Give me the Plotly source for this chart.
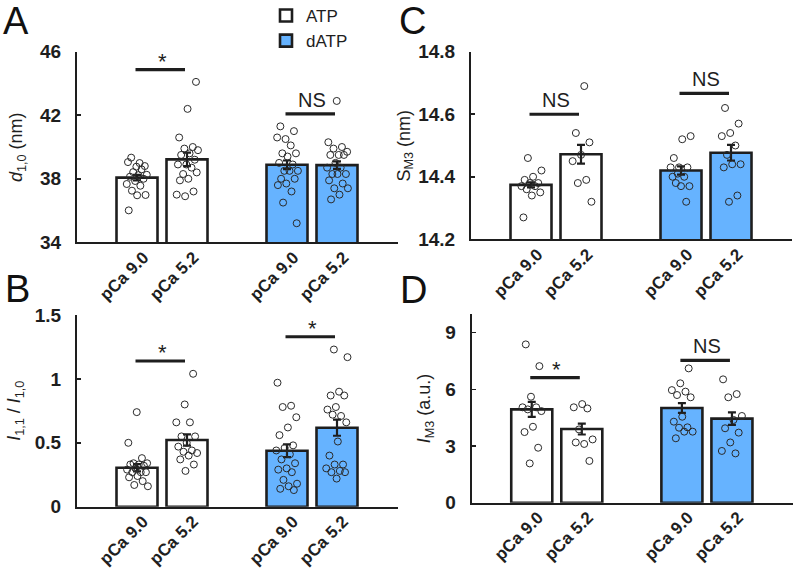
import plotly.graph_objects as go

# ---------------- data ----------------
positions = [1, 2, 4, 5]
tick_labels = ["pCa 9.0", "pCa 5.2", "pCa 9.0", "pCa 5.2"]
conditions = ["ATP", "dATP"]

# Panel A: d1,0 (nm)
d10_means = [38.07, 39.22, 38.88, 38.86]
d10_sem = [0.17, 0.42, 0.27, 0.24]
d10_atp_pca9 = [38.99, 39.33, 38.80, 38.76, 39.05, 38.59, 38.42, 38.25, 38.23, 38.13,
                38.00, 37.86, 37.67, 37.56, 37.25, 36.98, 36.96, 36.01]
d10_atp_pca52 = [44.1, 42.4, 40.6, 40.0, 39.9, 39.8, 39.6, 39.5, 39.2, 38.9,
                 38.9, 38.7, 38.3, 38.4, 38.0, 37.9, 37.2, 36.9, 37.0]
d10_datp_pca9 = [41.3, 41.0, 40.5, 40.6, 40.1, 39.6, 39.6, 39.4, 39.0, 38.9,
                 38.5, 38.5, 38.5, 38.0, 38.0, 37.7, 37.6, 37.2, 36.5, 35.2]
d10_datp_pca52 = [42.9, 40.3, 40.0, 39.9, 39.7, 39.5, 39.5, 39.5, 39.0, 38.7,
                  38.7, 38.3, 38.3, 38.3, 37.9, 37.7, 37.4, 37.4, 37.0, 36.7]
d10_sig_y = [44.87, 42.08]
d10_sig_text = ["*", "NS"]

# Panel B: I1,1 / I1,0
ratio_means = [0.305, 0.522, 0.438, 0.618]
ratio_sem = [0.028, 0.044, 0.05, 0.063]
ratio_atp_pca9 = [0.74, 0.50, 0.38, 0.34, 0.34, 0.33, 0.33, 0.32, 0.30, 0.29,
                  0.27, 0.27, 0.27, 0.24, 0.23, 0.20, 0.17, 0.16]
ratio_atp_pca52 = [1.04, 0.80, 0.66, 0.66, 0.55, 0.55, 0.50, 0.47, 0.44, 0.43,
                   0.42, 0.40, 0.37, 0.33, 0.28]
ratio_datp_pca9 = [0.97, 0.79, 0.78, 0.70, 0.62, 0.56, 0.48, 0.46, 0.44, 0.41,
                   0.37, 0.34, 0.30, 0.29, 0.27, 0.21, 0.18, 0.16, 0.14, 0.13]
ratio_datp_pca52 = [1.23, 1.17, 0.90, 0.87, 0.87, 0.78, 0.76, 0.71, 0.72, 0.66,
                    0.51, 0.40, 0.33, 0.33, 0.30, 0.28, 0.27, 0.27, 0.22]
ratio_sig_y = [1.14, 1.33]
ratio_sig_text = ["*", "*"]

# Panel C: S_M3 (nm)
sm3_means = [14.374, 14.472, 14.420, 14.477]
sm3_sem = [0.008, 0.03, 0.013, 0.025]
sm3_atp_pca9 = [14.46, 14.42, 14.40, 14.39, 14.38, 14.38, 14.37, 14.37, 14.36, 14.35, 14.34, 14.27]
sm3_atp_pca52 = [14.69, 14.54, 14.51, 14.47, 14.45, 14.39, 14.38, 14.32]
sm3_datp_pca9 = [14.53, 14.52, 14.46, 14.43, 14.43, 14.43, 14.40, 14.38, 14.37, 14.37,
                 14.40, 14.32, 14.41]
sm3_datp_pca52 = [14.62, 14.57, 14.54, 14.53, 14.50, 14.47, 14.44, 14.44, 14.43, 14.34, 14.32]
sm3_sig_y = [14.60, 14.667]
sm3_sig_text = ["NS", "NS"]

# Panel D: I_M3 (a.u.)
im3_means = [4.94, 3.90, 5.01, 4.45]
im3_sem = [0.40, 0.29, 0.26, 0.33]
im3_atp_pca9 = [8.38, 7.23, 5.61, 5.05, 5.05, 4.94, 4.85, 4.02, 3.74, 2.91, 2.08]
im3_atp_pca52 = [5.22, 5.05, 4.99, 3.88, 3.35, 3.11, 3.19, 2.21]
im3_datp_pca9 = [7.11, 6.32, 5.96, 5.88, 5.70, 5.58, 4.55, 4.29, 3.99, 3.97, 3.76, 3.76, 3.41]
im3_datp_pca52 = [6.53, 5.75, 5.58, 4.59, 4.38, 3.94, 3.71, 3.19, 2.74, 2.61]
im3_sig_y = [6.62, 7.53]
im3_sig_text = ["*", "NS"]

# ---------------- style ----------------
W, H = 793, 569
FONT = "Liberation Sans, Arial, Helvetica, sans-serif"
INK = "#1e1e1e"
BLUE = "#66b3ff"
fill_colors = ["white", BLUE]


def px_dom_x(a, b):
    return [a / W, b / W]


def px_dom_y(top, bottom):
    return [1 - bottom / H, 1 - top / H]


panels = [
    dict(name="A", means=d10_means, sem=d10_sem,
         pts=[d10_atp_pca9, d10_atp_pca52, d10_datp_pca9, d10_datp_pca52],
         sig_y=d10_sig_y, sig_text=d10_sig_text,
         yrange=[34, 46], tickvals=[34, 38, 42, 46], ticktext=["34", "38", "42", "46"],
         xdom=px_dom_x(77, 398), ydom=px_dom_y(51.7, 242.3),
         ytitle="<i>d</i><sub>1,0</sub> (nm)", ytitle_x=17, letter_xy=(1, -2)),
    dict(name="B", means=ratio_means, sem=ratio_sem,
         pts=[ratio_atp_pca9, ratio_atp_pca52, ratio_datp_pca9, ratio_datp_pca52],
         sig_y=ratio_sig_y, sig_text=ratio_sig_text,
         yrange=[0, 1.5], tickvals=[0, 0.5, 1, 1.5], ticktext=["0", "0.5", "1", "1.5"],
         xdom=px_dom_x(77, 398), ydom=px_dom_y(315, 506.7),
         ytitle="<i>I</i><sub>1,1</sub> / <i>I</i><sub>1,0</sub>", ytitle_x=16, letter_xy=(3, 266)),
    dict(name="C", means=sm3_means, sem=sm3_sem,
         pts=[sm3_atp_pca9, sm3_atp_pca52, sm3_datp_pca9, sm3_datp_pca52],
         sig_y=sm3_sig_y, sig_text=sm3_sig_text,
         yrange=[14.2, 14.8], tickvals=[14.2, 14.4, 14.6, 14.8],
         ticktext=["14.2", "14.4", "14.6", "14.8"],
         xdom=px_dom_x(471, 792), ydom=px_dom_y(51.7, 239.3),
         ytitle="S<sub>M3</sub> (nm)", ytitle_x=405, letter_xy=(397, -2)),
    dict(name="D", means=im3_means, sem=im3_sem,
         pts=[im3_atp_pca9, im3_atp_pca52, im3_datp_pca9, im3_datp_pca52],
         sig_y=im3_sig_y, sig_text=im3_sig_text,
         yrange=[0, 10], tickvals=[0, 3, 6, 9], ticktext=["0", "3", "6", "9"],
         xdom=px_dom_x(471.7, 793), ydom=px_dom_y(313.8, 502.7),
         ytitle="<i>I</i><sub>M3</sub> (a.u.)", ytitle_x=425, letter_xy=(398, 267)),
]

XRANGE = [-0.2, 6.22]
BAR_W = 0.82
JIT = 0.44


def jitter(n, seed):
    # deterministic low-discrepancy spread of horizontal offsets (layout only)
    g = 0.6180339887
    return [(((i + 1) * g + seed * 0.29) % 1.0 - 0.5) * JIT for i in range(n)]


fig = go.Figure()
annotations = []
layout_axes = {}

for k, p in enumerate(panels):
    idx = "" if k == 0 else str(k + 1)
    xa, ya = "x" + idx, "y" + idx
    # bars: ATP (first two) and dATP (last two)
    for g in range(2):
        sl = slice(2 * g, 2 * g + 2)
        fig.add_trace(go.Bar(
            x=positions[sl], y=p["means"][sl], width=BAR_W,
            marker=dict(color=fill_colors[g], line=dict(color=INK, width=2.6)),
            error_y=dict(type="data", array=p["sem"][sl], color=INK, thickness=2.2, width=4),
            name=conditions[g], showlegend=(k == 0), xaxis=xa, yaxis=ya,
        ))
    # individual measurements
    for j, vals in enumerate(p["pts"]):
        offs = jitter(len(vals), j + 3 * k)
        fig.add_trace(go.Scatter(
            x=[positions[j] + o for o in offs], y=vals, mode="markers",
            marker=dict(symbol="circle-open", size=7, color="#2a2a2a", line=dict(width=1)),
            showlegend=False, xaxis=xa, yaxis=ya, hoverinfo="skip",
        ))
    # significance bars and labels
    for s in range(2):
        p1, p2 = positions[2 * s], positions[2 * s + 1]
        fig.add_trace(go.Scatter(
            x=[p1 - 0.03, p2 - 0.04], y=[p["sig_y"][s]] * 2, mode="lines",
            line=dict(color=INK, width=3.2), showlegend=False, xaxis=xa, yaxis=ya,
            hoverinfo="skip",
        ))
        txt = p["sig_text"][s]
        is_star = txt == "*"
        annotations.append(dict(
            x=(p1 + p2) / 2, y=p["sig_y"][s], xref=xa, yref=ya, text=txt,
            showarrow=False, xanchor="center", yanchor="bottom",
            yshift=-6 if is_star else 1,
            font=dict(family=FONT, size=22 if is_star else 20, color=INK),
        ))
    # rotated category labels under each bar
    for pos, lab in zip(positions, tick_labels):
        annotations.append(dict(
            x=pos, y=p["ydom"][0], xref=xa, yref="paper", text="<b>%s</b>" % lab,
            textangle=-45, showarrow=False, xanchor="center",
            yanchor="middle", xshift=-13, yshift=-34,
            font=dict(family=FONT, size=17, color=INK),
        ))
    layout_axes["xaxis" + idx] = dict(
        domain=p["xdom"], range=XRANGE, anchor=ya, showline=True, linecolor=INK,
        linewidth=2, ticks="", tickmode="array", tickvals=positions,
        showticklabels=False, showgrid=False, zeroline=False, fixedrange=True,
        automargin=False,
    )
    layout_axes["yaxis" + idx] = dict(
        domain=p["ydom"], range=p["yrange"], anchor=xa, showline=True, linecolor=INK,
        linewidth=2, ticks="inside", ticklen=4, tickwidth=1.5, tickcolor=INK,
        tickmode="array", tickvals=p["tickvals"], ticktext=p["ticktext"],
        tickfont=dict(family=FONT, size=19, color=INK, weight="bold"),
        ticklabelstandoff=10, showgrid=False, zeroline=False, fixedrange=True,
        automargin=False,
    )
    yd = p["ydom"]
    annotations.append(dict(
        x=p["ytitle_x"] / W, y=(yd[0] + yd[1]) / 2, xref="paper", yref="paper",
        text=p["ytitle"], textangle=-90, showarrow=False, xanchor="center", yanchor="middle",
        font=dict(family=FONT, size=18, color=INK),
    ))
    lx, ly = p["letter_xy"]
    annotations.append(dict(
        x=lx / W, y=1 - ly / H, xref="paper", yref="paper", text=p["name"],
        showarrow=False, xanchor="left", yanchor="top",
        font=dict(family=FONT, size=38, color="#111"),
    ))

fig.update_layout(
    width=W, height=H, margin=dict(l=0, r=0, t=0, b=0, pad=0, autoexpand=False),
    paper_bgcolor="white", plot_bgcolor="white", barmode="overlay",
    font=dict(family=FONT, color=INK), hovermode=False,
    legend=dict(x=266 / W, y=1 + 2 / H, xanchor="left", yanchor="top",
                font=dict(family=FONT, size=17, color=INK), bgcolor="rgba(0,0,0,0)",
                tracegroupgap=0, itemwidth=30),
    annotations=annotations,
    **layout_axes,
)

# remove the browser's default 8px page margin so the figure sits at the window origin
fig.write_html("out.html", config={"displayModeBar": False, "staticPlot": True},
               post_script="document.body.style.margin='0';document.body.style.padding='0';")
